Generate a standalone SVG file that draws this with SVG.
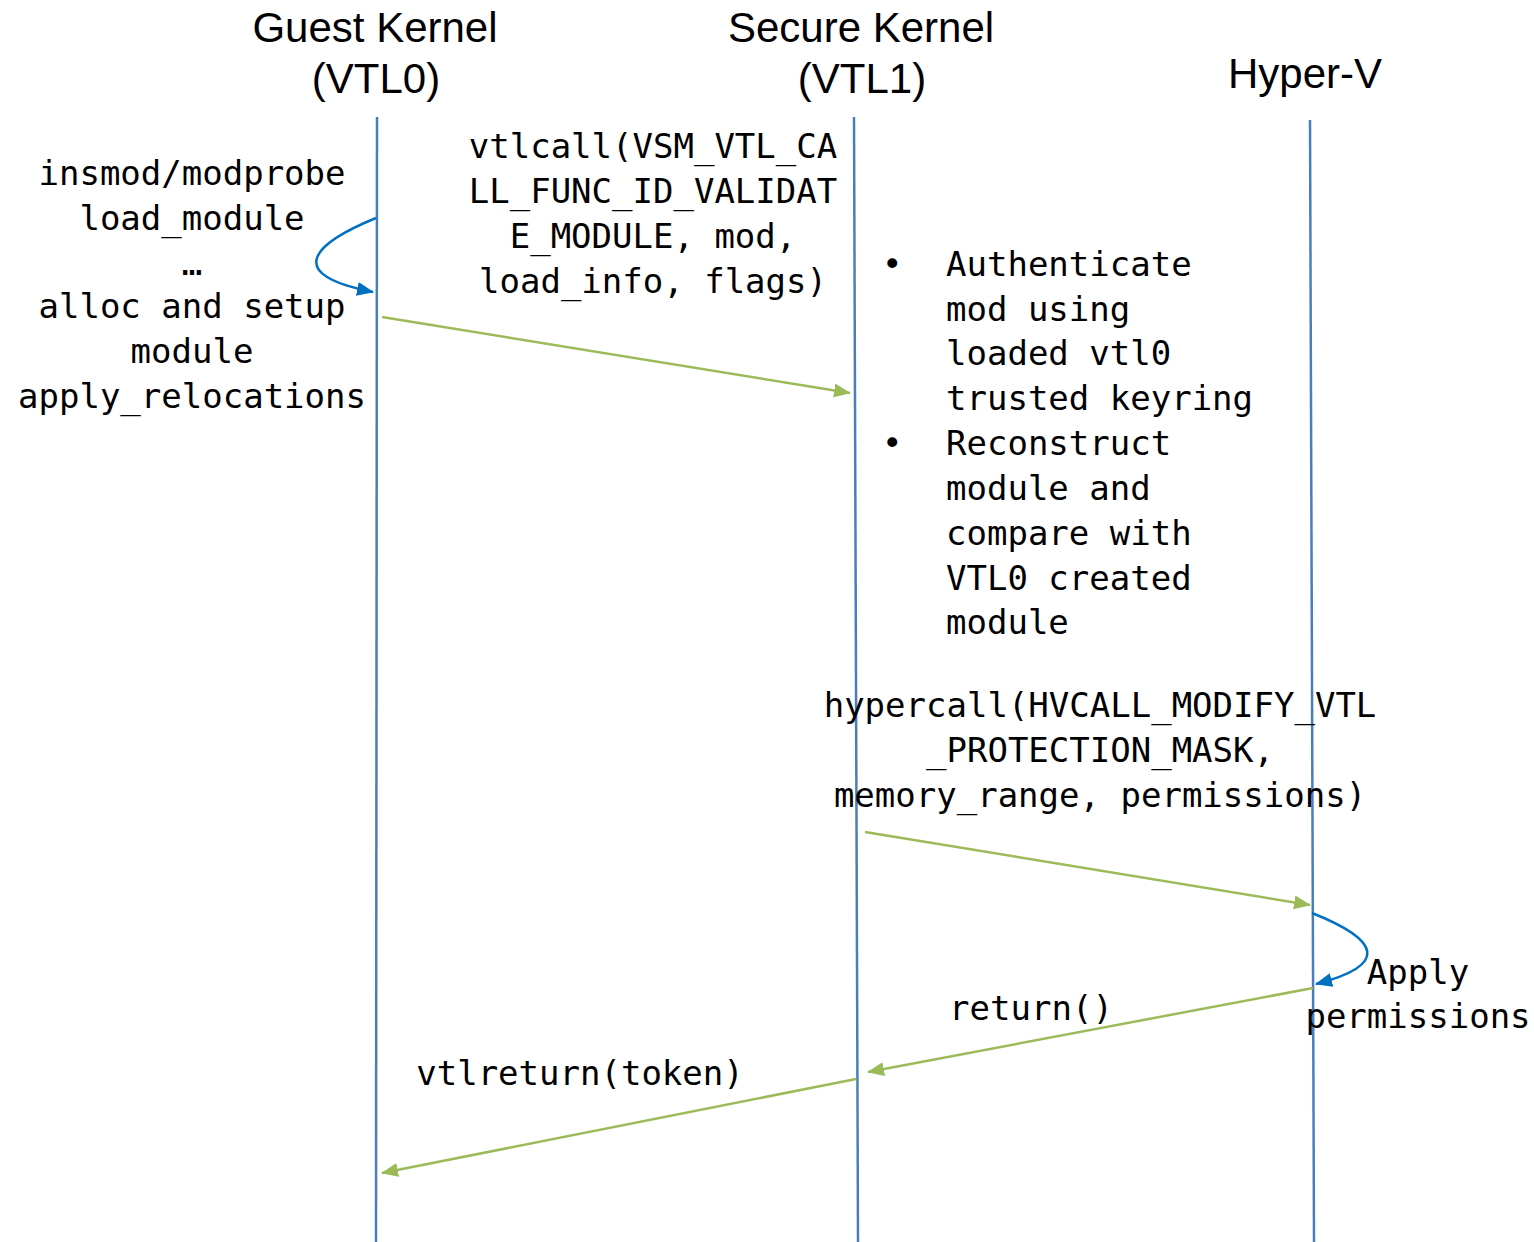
<svg xmlns="http://www.w3.org/2000/svg" width="1534" height="1242" viewBox="0 0 1534 1242">
<style>
.hdr{font-family:"Liberation Sans",Arial,sans-serif;font-size:42px;fill:#000;text-anchor:middle}
.mono{font-family:"DejaVu Sans Mono","Liberation Mono",monospace;font-size:34px;fill:#000}
.c{text-anchor:middle}
.life{stroke:#4a7ebb;stroke-width:2.5;fill:none}
.msg{stroke:#9bbb59;stroke-width:2.5;fill:none;marker-end:url(#ga)}
.self{stroke:#0070c0;stroke-width:2.5;fill:none;marker-end:url(#ba)}
</style>
<defs>
<marker id="ga" markerUnits="userSpaceOnUse" markerWidth="20" markerHeight="16" refX="16" refY="7" orient="auto"><path d="M0,0 L17,7 L0,14 z" fill="#9bbb59"/></marker>
<marker id="ba" markerUnits="userSpaceOnUse" markerWidth="20" markerHeight="16" refX="16" refY="7" orient="auto"><path d="M0,0 L17,7 L0,14 z" fill="#0070c0"/></marker>
</defs>
<rect width="1534" height="1242" fill="#fff"/>
<g id="guest">
<text class="hdr" x="375" y="42">Guest Kernel</text>
<text class="hdr" x="376" y="93">(VTL0)</text>
<line class="life" x1="377" y1="117" x2="376" y2="1242"/>
</g>
<g id="secure">
<text class="hdr" x="861" y="42">Secure Kernel</text>
<text class="hdr" x="862" y="93">(VTL1)</text>
<line class="life" x1="854" y1="117" x2="858" y2="1242"/>
</g>
<g id="hyperv">
<text class="hdr" x="1305" y="88">Hyper-V</text>
<line class="life" x1="1310" y1="120" x2="1314" y2="1242"/>
</g>
<g id="connectors">
<path class="self" d="M376,218 C310,245 285,275 373,292"/>
<line class="msg" x1="382" y1="317" x2="850" y2="393"/>
<line class="msg" x1="865" y1="832" x2="1310" y2="905"/>
<path class="self" d="M1312,913 C1380,940 1390,965 1316,984"/>
<line class="msg" x1="1313" y1="988" x2="868" y2="1072"/>
<line class="msg" x1="856" y1="1079" x2="382" y2="1173"/>
</g>
<g id="labels">
<text class="mono c" x="192" y="185">insmod/modprobe</text>
<text class="mono c" x="192" y="230">load_module</text>
<text class="mono c" x="192" y="275">…</text>
<text class="mono c" x="192" y="318">alloc and setup</text>
<text class="mono c" x="192" y="363">module</text>
<text class="mono c" x="192" y="408">apply_relocations</text>
<text class="mono c" x="653" y="158">vtlcall(VSM_VTL_CA</text>
<text class="mono c" x="653" y="203">LL_FUNC_ID_VALIDAT</text>
<text class="mono c" x="653" y="248">E_MODULE, mod,</text>
<text class="mono c" x="653" y="293">load_info, flags)</text>
<text class="mono" x="882" y="276">•</text>
<text class="mono" x="882" y="455">•</text>
<text class="mono" x="946" y="276">Authenticate</text>
<text class="mono" x="946" y="321">mod using</text>
<text class="mono" x="946" y="365">loaded vtl0</text>
<text class="mono" x="946" y="410">trusted keyring</text>
<text class="mono" x="946" y="455">Reconstruct</text>
<text class="mono" x="946" y="500">module and</text>
<text class="mono" x="946" y="545">compare with</text>
<text class="mono" x="946" y="590">VTL0 created</text>
<text class="mono" x="946" y="634">module</text>
<text class="mono c" x="1100" y="717">hypercall(HVCALL_MODIFY_VTL</text>
<text class="mono c" x="1100" y="762">_PROTECTION_MASK,</text>
<text class="mono c" x="1100" y="807">memory_range, permissions)</text>
<text class="mono c" x="1418" y="984">Apply</text>
<text class="mono c" x="1418" y="1028">permissions</text>
<text class="mono c" x="1031" y="1020">return()</text>
<text class="mono c" x="580" y="1085">vtlreturn(token)</text>
</g>
</svg>
